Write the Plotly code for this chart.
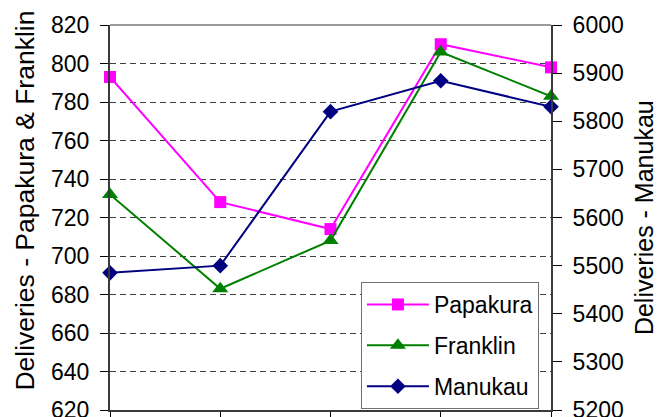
import plotly.graph_objects as go

# Monthly delivery counts by district
periods = [1, 2, 3, 4, 5]
papakura = [793, 728, 714, 810, 798]
franklin = [732, 683, 708, 806, 783]
manukau = [5485, 5500, 5820, 5884, 5830]

FONT = "Liberation Sans, Arial, sans-serif"
AXIS_CLR = "#3a3a3a"

fig = go.Figure()
fig.add_trace(go.Scatter(
    x=periods, y=papakura, name="Papakura", mode="lines+markers",
    line=dict(color="#ff00ff", width=2),
    marker=dict(symbol="square", size=12, color="#ff00ff"),
    cliponaxis=False, legendgroup="a"))
fig.add_trace(go.Scatter(
    x=periods, y=franklin, name="Franklin", mode="lines+markers",
    line=dict(color="#008000", width=2),
    marker=dict(symbol="triangle-up", size=14, color="#008000"),
    cliponaxis=False, legendgroup="b"))
fig.add_trace(go.Scatter(
    x=periods, y=manukau, name="Manukau", mode="lines+markers", yaxis="y2",
    line=dict(color="#000080", width=2),
    marker=dict(symbol="diamond", size=12, color="#000080"),
    cliponaxis=False, legendgroup="c"))

fig.update_layout(
    width=658, height=417,
    margin=dict(l=110, r=107, t=25, b=7, autoexpand=False),
    paper_bgcolor="white", plot_bgcolor="white",
    font=dict(family=FONT, size=23, color="black"),
    showlegend=True,
    legend=dict(
        x=0.569, y=0.3325, xanchor="left", yanchor="top",
        bgcolor="white", bordercolor="#707070", borderwidth=1,
        font=dict(family=FONT, size=23), itemwidth=62,
        tracegroupgap=8,
    ),
    xaxis=dict(
        range=[periods[0], periods[-1]], tickvals=periods, automargin=False,
        showticklabels=False, showgrid=False, zeroline=False,
        showline=True, linecolor=AXIS_CLR, linewidth=2,
        ticks="outside", ticklen=8, tickcolor="black", tickwidth=1,
    ),
    yaxis=dict(
        range=[620, 820], dtick=20, tick0=620, automargin=False,
        ticklabeloverflow="allow",
        showgrid=True, gridcolor="#404040", gridwidth=1, griddash="6px,4px",
        zeroline=False, showline=True, linecolor=AXIS_CLR, linewidth=2,
        ticks="outside", ticklen=8, tickcolor="black", tickwidth=1,
        ticklabelstandoff=6,
    ),
    yaxis2=dict(
        range=[5200, 6000], dtick=100, tick0=5200, overlaying="y", side="right",
        automargin=False, ticklabeloverflow="allow",
        showgrid=False, zeroline=False, showline=True, linecolor=AXIS_CLR,
        linewidth=2, ticks="outside", ticklen=9, tickcolor="black", tickwidth=1,
        ticklabelstandoff=6,
    ),
    yaxis3=dict(
        range=[5200, 6000], dtick=100, tick0=5200, overlaying="y", side="right",
        anchor="x", automargin=False, showgrid=False, zeroline=False,
        showline=False, showticklabels=False, ticks="inside", ticklen=7,
        tickcolor="black", tickwidth=1,
    ),
    annotations=[
        dict(text="Deliveries - Papakura & Franklin", textangle=-90,
             xref="paper", yref="paper", x=-0.193, y=0.045,
             xanchor="center", yanchor="bottom", showarrow=False,
             font=dict(family=FONT, size=26.5)),
        dict(text="Deliveries - Manukau", textangle=-90,
             xref="paper", yref="paper", x=1.21, y=0.5,
             xanchor="center", yanchor="middle", showarrow=False,
             font=dict(family=FONT, size=25)),
    ],
    shapes=[
        dict(type="line", xref="paper", yref="paper", x0=0, x1=1, y0=1, y1=1,
             line=dict(color="#9a9a9a", width=2), layer="above"),
    ],
)

fig.write_html("out.html")
